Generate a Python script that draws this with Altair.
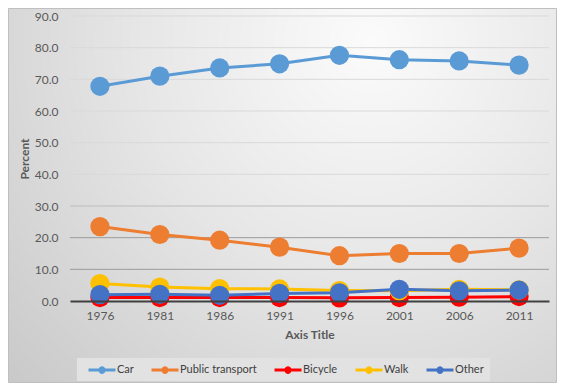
import altair as alt
import pandas as pd

years = ["1976", "1981", "1986", "1991", "1996", "2001", "2006", "2011"]
series_names = ["Car", "Public transport", "Bicycle", "Walk", "Other"]
car = [67.8, 71.0, 73.6, 74.9, 77.6, 76.2, 75.8, 74.5]
public_transport = [23.5, 21.0, 19.2, 17.0, 14.3, 15.0, 15.0, 16.7]
bicycle = [1.1, 1.1, 1.1, 1.1, 1.0, 1.1, 1.2, 1.4]
walk = [5.5, 4.4, 3.9, 3.8, 3.3, 3.2, 3.7, 3.5]
other = [2.0, 2.1, 1.8, 2.4, 2.6, 3.7, 3.2, 3.4]
colors = ["#5B9BD5", "#ED7D31", "#FF0000", "#FFC000", "#4472C4"]
grid_values = [10, 20, 30, 40, 50, 60, 70, 80, 90]
y_ticks = [0, 10, 20, 30, 40, 50, 60, 70, 80, 90]

values = [car, public_transport, bicycle, walk, other]
rows = []
for name, vals in zip(series_names, values):
    for y, v in zip(years, vals):
        rows.append({"year": y, "series": name, "value": v})
df = pd.DataFrame(rows)

FONT = "Lato"
W, H = 479, 285
PL, PT, PR, PB = 62, 8, 8, 82

bg = alt.Chart(pd.DataFrame({"a": [0]})).mark_rect(
    fill={
        "gradient": "radial",
        "x1": 0.66, "y1": 0.22, "r1": 0.0,
        "x2": 0.66, "y2": 0.22, "r2": 0.95,
        "stops": [
            {"offset": 0.0, "color": "#fbfbfb"},
            {"offset": 0.45, "color": "#e6e6e6"},
            {"offset": 1.0, "color": "#c6c6c6"},
        ],
    },
    stroke="#bfbfbf",
    strokeWidth=1,
).encode(
    x=alt.value(-PL + 0.5), x2=alt.value(W + PR - 0.5),
    y=alt.value(-PT + 0.5), y2=alt.value(H + PB - 0.5),
)

y_scale = alt.Scale(domain=[0, 90], nice=False)
y_axis = alt.Axis(
    title="Percent", values=y_ticks, format=".1f",
    ticks=False, domain=False, labelPadding=12, titlePadding=3,
    grid=False, zindex=1,
    labelFont=FONT, labelFontSize=12, labelColor="#595959",
    titleFont=FONT, titleFontSize=12, titleFontWeight="bold", titleColor="#595959",
)

grid = alt.Chart(pd.DataFrame({"g": grid_values})).transform_calculate(
    gc="datum.g <= 20 ? '#9c9c9c' : (datum.g <= 30 ? '#bcbcbc' : '#d9d9d9')"
).mark_rule(strokeWidth=1).encode(
    y=alt.Y("g:Q", scale=y_scale, axis=y_axis),
    x=alt.value(0), x2=alt.value(W),
    color=alt.Color("gc:N", scale=None, legend=None),
)

x_enc = alt.X(
    "year:N", sort=years, scale=alt.Scale(type="point", padding=0.5),
    axis=alt.Axis(
        title="Axis Title", labelAngle=0, ticks=False, labelPadding=9,
        domainColor="#404040", domainWidth=2, titlePadding=8,
        labelFont=FONT, labelFontSize=12, labelColor="#595959",
        titleFont=FONT, titleFontSize=12, titleFontWeight="bold", titleColor="#595959",
        grid=False, zindex=1,
    ),
)
y_enc = alt.Y("value:Q", scale=y_scale, axis=y_axis)
color_scale = alt.Scale(domain=series_names, range=colors)

lines = alt.Chart(df).mark_line(strokeWidth=3).encode(
    x=x_enc, y=y_enc,
    color=alt.Color("series:N", scale=color_scale, legend=None),
    detail="series:N",
)

sym = ("M-2.25,-0.25H-0.55A0.58,0.58 0 0,1 0.55,-0.25H2.25V0.25H0.55"
       "A0.58,0.58 0 0,1 -0.55,0.25H-2.25Z")

points = alt.Chart(df).mark_point(filled=True, size=370, opacity=1).encode(
    x=x_enc, y=y_enc,
    color=alt.Color(
        "series:N", scale=color_scale, sort=series_names,
        legend=alt.Legend(
            title=" ", titleOrient="left", titlePadding=13, titleFontSize=11,
            orient="none", direction="horizontal", columns=5,
            legendX=7, legendY=342, symbolType=sym, symbolSize=144,
            symbolStrokeWidth=0, symbolOpacity=1,
            labelFont=FONT, labelFontSize=11, labelColor="#404040",
            labelOffset=9, columnPadding=17, padding=6,
            fillColor="#e2e2e2", zindex=1,
        ),
    ),
)

chart = alt.layer(bg, grid, lines, points).properties(
    width=W, height=H,
    autosize=alt.AutoSizeParams(type="none"),
    padding={"left": PL, "top": PT, "right": PR, "bottom": PB},
    background="white",
).resolve_scale(color="independent").configure_view(stroke=None)

chart.save("out.html", embed_options={"renderer": "svg", "actions": False})
